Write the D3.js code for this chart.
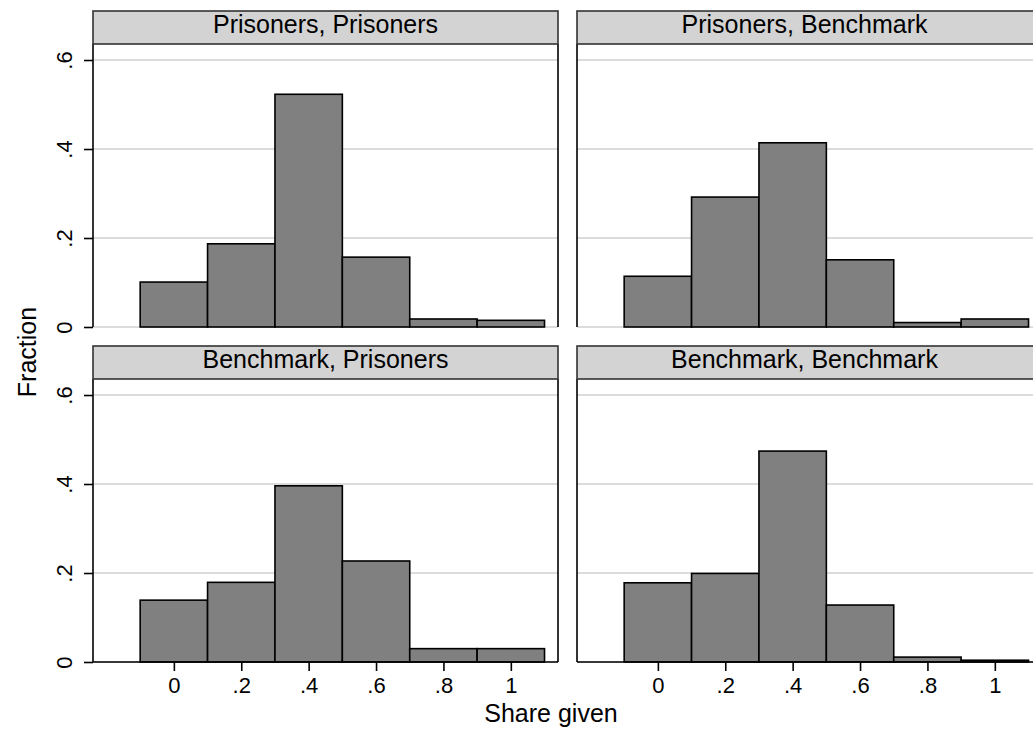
<!DOCTYPE html>
<html>
<head>
<meta charset="utf-8">
<script src="https://cdn.jsdelivr.net/npm/d3@7"></script>
<style>
body{margin:0;background:#fff;}
svg{display:block;font-family:"Liberation Sans",Arial,Helvetica,sans-serif;}
</style>
</head>
<body>
<div id="chart"></div>
<script>
// bins (centres) of the histogram, width .2
var binCenters = [0, 0.2, 0.4, 0.6, 0.8, 1];
var binWidth = 0.2;
var panelTitles = ["Prisoners, Prisoners", "Prisoners, Benchmark",
                   "Benchmark, Prisoners", "Benchmark, Benchmark"];
var prisPris   = [0.101, 0.187, 0.523, 0.157, 0.018, 0.015];
var prisBench  = [0.114, 0.292, 0.414, 0.151, 0.010, 0.018];
var benchPris  = [0.139, 0.179, 0.396, 0.227, 0.030, 0.030];
var benchBench = [0.178, 0.199, 0.474, 0.128, 0.011, 0.004];
var yTicks = [0, 0.2, 0.4, 0.6];
var yTickLabels = ["0", ".2", ".4", ".6"];
var xTicks = [0, 0.2, 0.4, 0.6, 0.8, 1];
var xTickLabels = ["0", ".2", ".4", ".6", ".8", "1"];

function myfun(){
    var width = 1033;
    var height = 742;
    var svg = d3.select("#chart")
                .append("svg")
                .attr("width", width)
                .attr("height", height);

    var cols = [{x0: 93, x1: 558, border: true},
                {x0: 577, x1: 1042, border: false}];
    var rows = [{top: 11, y0: 44, y1: 327, axis: false},
                {top: 346, y0: 379, y1: 662, axis: true}];
    var series = [prisPris, prisBench, benchPris, benchBench];

    series.forEach(function(vals, k){
        var c = cols[k % 2], r = rows[Math.floor(k / 2)];
        var x = d3.scaleLinear().domain([-0.24, 1.14]).range([c.x0, c.x1]);
        var y = d3.scaleLinear().domain([0, 0.636]).range([r.y1, r.y0]);
        var g = svg.append("g");

        //网格线
        g.selectAll("line.grid").data(yTicks).enter().append("line")
            .attr("x1", c.x0).attr("x2", c.x1)
            .attr("y1", function(d){ return y(d); })
            .attr("y2", function(d){ return y(d); })
            .attr("stroke", "#dcdcdc")
            .attr("stroke-width", 2);

        //柱子
        g.selectAll("rect.bar").data(vals).enter().append("rect")
            .attr("x", function(d, i){ return x(binCenters[i] - binWidth / 2); })
            .attr("y", function(d){ return y(d); })
            .attr("width", function(d, i){ return x(binCenters[i] + binWidth / 2) - x(binCenters[i] - binWidth / 2); })
            .attr("height", function(d){ return y(0) - y(d); })
            .attr("fill", "#808080")
            .attr("stroke", "#000")
            .attr("stroke-width", 1.6);

        //y轴
        var yAxis = d3.axisLeft(y).tickValues(yTicks).tickSize(c.border ? 9 : 0)
                      .tickFormat(function(d, i){ return c.border ? yTickLabels[i] : ""; });
        var ya = g.append("g").attr("transform", "translate(" + c.x0 + ",0)").call(yAxis);
        ya.select(".domain").attr("d", "M0," + r.y0 + "V" + r.y1).attr("stroke", "#000").attr("stroke-width", 1.6);
        ya.selectAll(".tick line").attr("stroke", "#000").attr("stroke-width", 1.6);
        ya.selectAll(".tick text")
            .attr("transform", "rotate(-90)")
            .attr("x", 0).attr("y", -21).attr("dy", 0)
            .attr("text-anchor", "middle")
            .attr("font-size", 22)
            .attr("font-family", null)
            .attr("fill", "#000");

        if(c.border){
            g.append("line")
                .attr("x1", c.x1).attr("x2", c.x1)
                .attr("y1", r.y0).attr("y2", r.y1)
                .attr("stroke", "#000").attr("stroke-width", 1.6);
        }

        //x轴
        if(r.axis){
            var xAxis = d3.axisBottom(x).tickValues(xTicks).tickSize(9)
                          .tickFormat(function(d, i){ return xTickLabels[i]; });
            var xa = g.append("g").attr("transform", "translate(0," + r.y1 + ")").call(xAxis);
            xa.select(".domain").attr("d", "M" + c.x0 + ",0H" + c.x1).attr("stroke", "#000").attr("stroke-width", 1.6);
            xa.selectAll(".tick line").attr("stroke", "#000").attr("stroke-width", 1.6);
            xa.selectAll(".tick text")
                .attr("y", 31).attr("dy", 0)
                .attr("font-size", 22)
                .attr("font-family", null)
                .attr("fill", "#000");
        }

        //标题栏
        g.append("rect")
            .attr("x", c.x0).attr("y", r.top)
            .attr("width", c.x1 - c.x0).attr("height", r.y0 - r.top)
            .attr("fill", "#d3d3d3")
            .attr("stroke", "#333")
            .attr("stroke-width", 1.6);
        g.append("text")
            .attr("x", (c.x0 + Math.min(c.x1, 1032)) / 2)
            .attr("y", r.top + 22)
            .attr("text-anchor", "middle")
            .attr("font-size", 25)
            .attr("fill", "#000")
            .text(panelTitles[k]);
    });

    svg.append("text")
        .attr("transform", "translate(36,352) rotate(-90)")
        .attr("text-anchor", "middle")
        .attr("font-size", 25)
        .text("Fraction");
    svg.append("text")
        .attr("x", 551).attr("y", 722)
        .attr("text-anchor", "middle")
        .attr("font-size", 25)
        .text("Share given");
}
window.onload = myfun;
</script>
</body>
</html>
